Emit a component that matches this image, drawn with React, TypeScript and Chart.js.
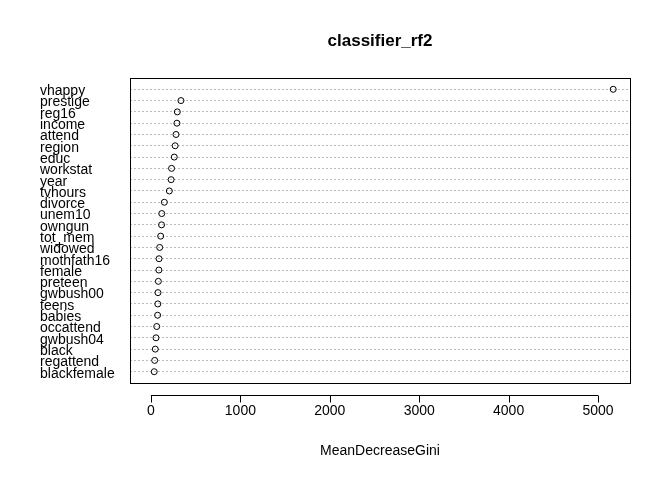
import { useEffect, useRef } from 'react';
import { Chart, registerables } from 'chart.js';

Chart.register(...registerables);

const variables = [
  'vhappy', 'prestige', 'reg16', 'income', 'attend', 'region', 'educ', 'workstat', 'year',
  'tvhours', 'divorce', 'unem10', 'owngun', 'tot_mem', 'widowed', 'mothfath16', 'female',
  'preteen', 'gwbush00', 'teens', 'babies', 'occattend', 'gwbush04', 'black', 'regattend',
  'blackfemale',
];
const gini = [
  5170, 335, 294, 290, 280, 270, 260, 230, 225, 205, 149, 120, 118, 108, 97, 90, 88, 82, 78,
  76, 74, 64, 56, 48, 41, 36,
];
const xTicks = [0, 1000, 2000, 3000, 4000, 5000];
const FONT = 'Arial, "Liberation Sans", sans-serif';

export default function App() {
  const canvasRef = useRef<HTMLCanvasElement | null>(null);

  useEffect(() => {
    const canvas = canvasRef.current;
    if (!canvas) return undefined;
    const n = variables.length;
    const points = gini.map((v, i) => ({ x: v, y: n - i }));

    const rStyle = {
      id: 'rStyle',
      afterDraw(chart: any) {
        const { ctx, chartArea: a, scales } = chart;
        ctx.save();
        ctx.strokeStyle = '#000';
        ctx.lineWidth = 1;
        ctx.strokeRect(a.left + 0.5, a.top + 0.5, a.right - a.left, a.bottom - a.top);
        // R-style x axis line
        const ay = a.bottom + 12.5;
        ctx.beginPath();
        ctx.moveTo(scales.x.getPixelForValue(0), ay);
        ctx.lineTo(scales.x.getPixelForValue(5000), ay);
        xTicks.forEach((t) => {
          const px = Math.round(scales.x.getPixelForValue(t)) + 0.5;
          ctx.moveTo(px, ay);
          ctx.lineTo(px, ay + 7);
        });
        ctx.stroke();
        ctx.fillStyle = '#000';
        ctx.font = `14px ${FONT}`;
        ctx.textBaseline = 'middle';
        ctx.textAlign = 'left';
        variables.forEach((v, i) => {
          ctx.fillText(v, 40, scales.y.getPixelForValue(n - i) + 2);
        });
        ctx.textAlign = 'center';
        ctx.fillText('MeanDecreaseGini', (a.left + a.right) / 2, 451);
        ctx.font = `bold 17px ${FONT}`;
        ctx.fillText('classifier_rf2', (a.left + a.right) / 2, 41);
        ctx.restore();
      },
    };

    const chart = new Chart(canvas, {
      type: 'scatter',
      data: {
        datasets: [
          {
            data: points,
            pointStyle: 'circle',
            pointRadius: 3,
            borderColor: '#000',
            backgroundColor: 'rgba(0,0,0,0)',
            borderWidth: 1,
          },
        ],
      },
      options: {
        animation: false,
        responsive: false,
        layout: { padding: { top: 78, right: 42, left: 0, bottom: 0 } },
        plugins: { legend: { display: false }, tooltip: { enabled: false } },
        scales: {
          x: {
            min: -235,
            max: 5358,
            afterBuildTicks: (s: any) => {
              s.ticks = xTicks.map((v) => ({ value: v }));
            },
            afterFit: (s: any) => {
              s.height = 97;
            },
            grid: { display: false, drawTicks: false },
            border: { display: false },
            ticks: {
              color: '#000',
              padding: 20,
              font: { size: 14, family: FONT },
              callback: (v: any) => String(v),
            },
          },
          y: {
            min: 0,
            max: n + 1,
            afterBuildTicks: (s: any) => {
              s.ticks = variables.map((_, i) => ({ value: i + 1 }));
            },
            afterFit: (s: any) => {
              s.width = 130;
            },
            grid: { color: '#bbb', drawTicks: false, lineWidth: 1 },
            border: { display: false, dash: [2, 2] },
            ticks: { display: false },
          },
        },
      },
      plugins: [rStyle],
    } as any);

    return () => chart.destroy();
  }, []);

  return (
    <div style={{ position: 'fixed', left: 0, top: 0, width: 672, height: 480, background: '#fff' }}>
      <canvas ref={canvasRef} width={672} height={480} />
    </div>
  );
}
